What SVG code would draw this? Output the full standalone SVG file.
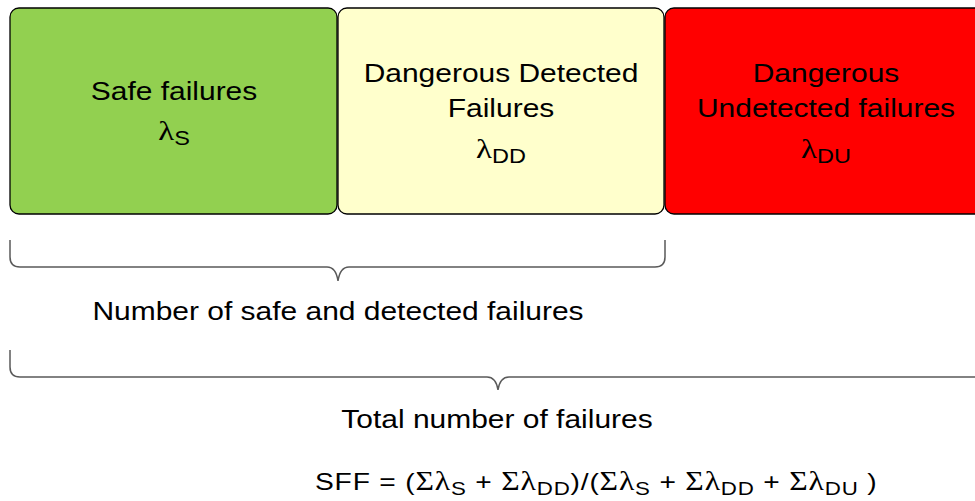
<svg xmlns="http://www.w3.org/2000/svg" width="975" height="501" viewBox="0 0 975 501">
<style>
.box{stroke:#000;stroke-width:1.3}
.t{font-family:"Liberation Sans",Arial,sans-serif;font-size:25.5px;fill:#000;text-anchor:middle}
.f{text-anchor:start;font-size:24px}
.g{font-family:"Liberation Serif","Times New Roman",serif;font-size:28px}
.f .g{font-size:27px}
.sub{font-size:20px}
.f .sub{font-size:19px}
.brace{fill:none;stroke:#5a5a5a;stroke-width:1.5}
</style>
<rect width="975" height="501" fill="#fff"/>
<g id="safe">
<rect class="box" x="10" y="8" width="327" height="206" rx="9" fill="#92D050"/>
<text class="t" transform="translate(174,100) scale(1.175,1)">Safe failures</text>
<text class="t" transform="translate(174,140) scale(1.175,1)"><tspan class="g">λ</tspan><tspan class="sub" dy="5">S</tspan></text>
</g>
<g id="dd">
<rect class="box" x="338" y="8" width="326" height="206" rx="9" fill="#FFFFCC"/>
<text class="t" transform="translate(501,82) scale(1.175,1)">Dangerous Detected</text>
<text class="t" transform="translate(501,117) scale(1.175,1)">Failures</text>
<text class="t" transform="translate(501,158) scale(1.175,1)"><tspan class="g">λ</tspan><tspan class="sub" dy="5">DD</tspan></text>
</g>
<g id="du">
<rect class="box" x="665" y="8" width="323" height="206" rx="9" fill="#FF0000"/>
<text class="t" transform="translate(826,82) scale(1.175,1)">Dangerous</text>
<text class="t" transform="translate(826,117) scale(1.175,1)">Undetected failures</text>
<text class="t" transform="translate(826,158) scale(1.175,1)"><tspan class="g">λ</tspan><tspan class="sub" dy="5">DU</tspan></text>
</g>
<g id="connectors">
<path class="brace" d="M10,240 V257 Q10,267 20,267 H327 Q336,267 338,281 Q340,267 349,267 H655 Q665,267 665,257 V240"/>
<path class="brace" d="M10,350 V367 Q10,377 20,377 H487 Q496,377 498,390 Q500,377 509,377 H985"/>
</g>
<g id="labels">
<text class="t" transform="translate(338,320) scale(1.175,1)">Number of safe and detected failures</text>
<text class="t" transform="translate(497,428) scale(1.175,1)">Total number of failures</text>
<text class="t f" transform="translate(315,490) scale(1.175,1)" x="0" textLength="478" lengthAdjust="spacing">SFF = (<tspan class="g">Σλ</tspan><tspan class="sub" dy="5">S</tspan><tspan dy="-5"> + </tspan><tspan class="g">Σλ</tspan><tspan class="sub" dy="5">DD</tspan><tspan dy="-5">)/(</tspan><tspan class="g">Σλ</tspan><tspan class="sub" dy="5">S</tspan><tspan dy="-5"> + </tspan><tspan class="g">Σλ</tspan><tspan class="sub" dy="5">DD</tspan><tspan dy="-5"> + </tspan><tspan class="g">Σλ</tspan><tspan class="sub" dy="5">DU</tspan><tspan dy="-5"> )</tspan></text>
</g>
</svg>
